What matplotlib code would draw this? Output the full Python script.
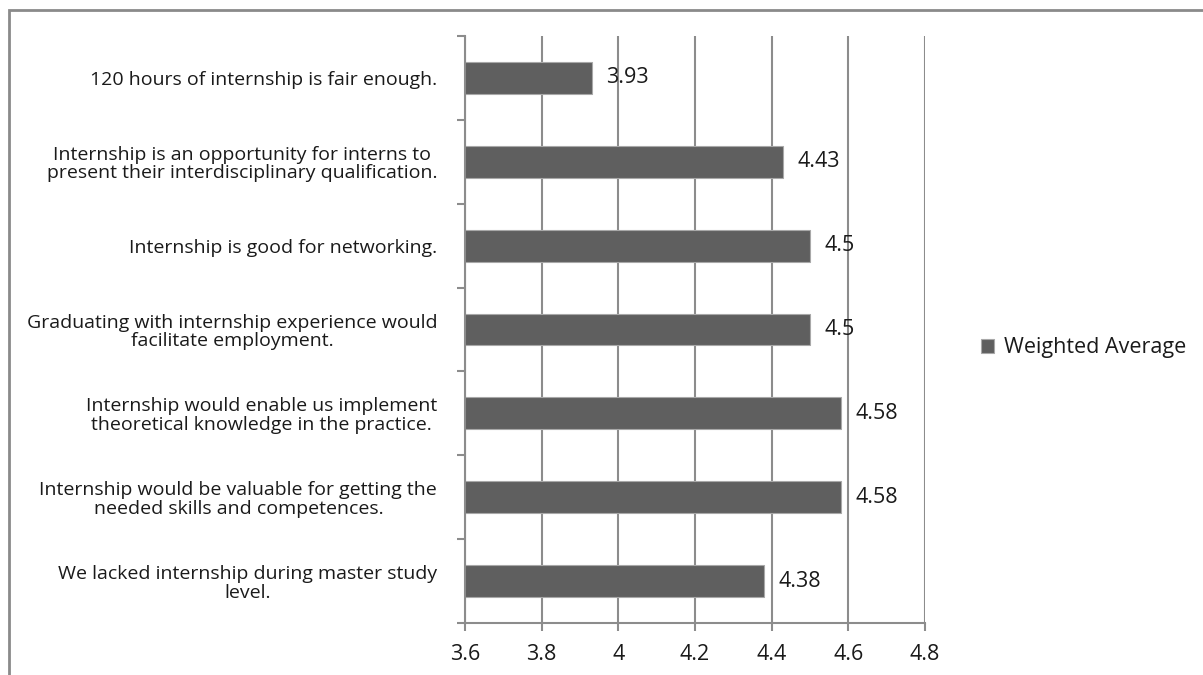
import matplotlib
matplotlib.use("Agg")
import matplotlib.pyplot as plt
from matplotlib.patches import Rectangle
from matplotlib.ticker import FixedLocator

plt.rcParams['font.family'] = ['Open Sans', 'DejaVu Sans']

statements = [
    "120 hours of internship is fair enough.",
    "Internship is an opportunity for interns to\npresent their interdisciplinary qualification.",
    "Internship is good for networking.",
    "Graduating with internship experience would\nfacilitate employment.",
    "Internship would enable us implement\ntheoretical knowledge in the practice.",
    "Internship would be valuable for getting the\nneeded skills and competences.",
    "We lacked internship during master study\nlevel.",
]
weighted_avg = [3.93, 4.43, 4.5, 4.5, 4.58, 4.58, 4.38]
value_labels = ["3.93", "4.43", "4.5", "4.5", "4.58", "4.58", "4.38"]
x_ticks = [3.6, 3.8, 4.0, 4.2, 4.4, 4.6, 4.8]
x_tick_labels = ["3.6", "3.8", "4", "4.2", "4.4", "4.6", "4.8"]
series_name = "Weighted Average"

BAR = "#5f5f5f"
AXIS = "#8c8c8c"
TEXT = "#1a1a1a"
FS_CAT = 14
FS_NUM = 15.5

fig = plt.figure(figsize=(12.03, 6.75), dpi=100)
fig.patch.set_facecolor("white")

# outer chart frame (only left and top edges fall inside the canvas)
fig.add_artist(Rectangle((8.5 / 1203, -0.05), 1.2, 1 - 9.5 / 675 + 0.05,
                         transform=fig.transFigure, fill=False,
                         edgecolor="#8a8a8a", linewidth=2))

ax = fig.add_axes([465 / 1203, 1 - 623 / 675, 460 / 1203, 587 / 675])

ypos = list(range(len(statements)))
ax.barh(ypos, weighted_avg, left=0, height=0.38, color=BAR,
        edgecolor="#a8a8a8", linewidth=0.8, zorder=3, label=series_name)

for y, v, lab in zip(ypos, weighted_avg, value_labels):
    ax.annotate(lab, (v, y), xytext=(10.5, 0), textcoords="offset points",
                va="center", ha="left", fontsize=FS_NUM, color=TEXT, zorder=4)

ax.set_xlim(3.6, 4.8)
ax.set_ylim(len(statements) - 0.5, -0.5)

ax.set_xticks(x_ticks)
ax.set_xticklabels(x_tick_labels, fontsize=FS_NUM, color=TEXT)
ax.set_yticks(ypos)
ax.set_yticklabels(statements, fontsize=FS_CAT, color=TEXT, multialignment="center",
                   linespacing=1.05)
ax.yaxis.set_minor_locator(FixedLocator([i - 0.5 for i in range(len(statements) + 1)]))
ax.tick_params(axis="y", which="major", length=0, pad=20)
ax.tick_params(axis="y", which="minor", length=6, width=1.5, color=AXIS, direction="out")
ax.tick_params(axis="x", which="major", length=6, width=1.5, color=AXIS, direction="out", pad=9)

ax.grid(axis="x", color=AXIS, linewidth=1.5, zorder=1)
ax.set_axisbelow(True)

for side in ("top", "right"):
    ax.spines[side].set_visible(False)
for side in ("left", "bottom"):
    ax.spines[side].set_color(AXIS)
    ax.spines[side].set_linewidth(1.5)
    ax.spines[side].set_zorder(5)

fig.legend(handles=ax.containers[0][:1], labels=[series_name],
           loc="center left", bbox_to_anchor=(981 / 1203, 1 - 348 / 675),
           frameon=False, fontsize=FS_NUM, handlelength=0.6, handleheight=0.6,
           handletextpad=0.45, borderpad=0, borderaxespad=0, labelcolor=TEXT)

fig.savefig("out.png", dpi=100, facecolor="white")
